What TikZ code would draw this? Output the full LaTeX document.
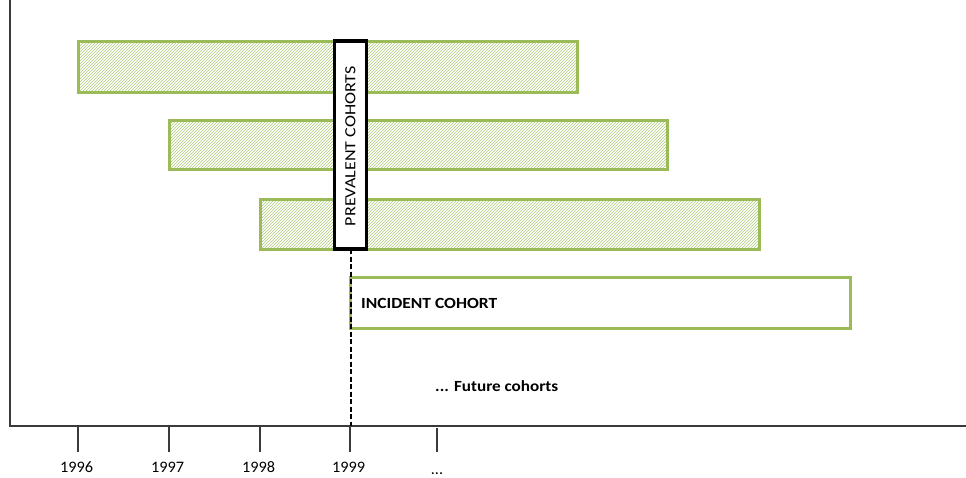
\documentclass[tikz,border=0pt]{standalone}
\usepackage{fontspec}
\setmainfont{Carlito}
\usetikzlibrary{patterns}
\definecolor{barGreen}{HTML}{9BBB59}
\definecolor{hatchGreen}{HTML}{AFC97A}
\definecolor{axisGray}{HTML}{3A3A3A}
\tikzset{
  cohortbar/.style={draw=barGreen, line width=3pt, anchor=north west, inner sep=0pt, outer sep=0pt},
  hatched/.style={cohortbar, pattern=north east lines, pattern color=hatchGreen},
  prevbox/.style={draw=black, line width=3.2pt, fill=white, anchor=north west, inner sep=0pt, outer sep=0pt, minimum width=32pt, minimum height=208pt},
  axisline/.style={draw=axisGray, line width=1.3pt},
  tickline/.style={draw=axisGray, line width=1.3pt},
  yearlabel/.style={font=\fontsize{16}{18}\selectfont, text=black, inner sep=0pt},
  boldlabel/.style={font=\bfseries\fontsize{15.5}{18}\selectfont, text=black, inner sep=0pt},
}
\begin{document}
\begin{tikzpicture}[x=1pt,y=-1pt]
\useasboundingbox (0,0) rectangle (966,477);
% bars
\node[hatched, minimum width=499pt, minimum height=51pt] (bar1) at (78,41) {};
\node[hatched, minimum width=498pt, minimum height=49pt] (bar2) at (169,120) {};
\node[hatched, minimum width=499pt, minimum height=50pt] (bar3) at (260,199) {};
\node[cohortbar, fill=white, minimum width=500pt, minimum height=51pt] (inc) at (350,277) {};
\node[boldlabel, anchor=west] (inctext) at (361,303) {\resizebox{136pt}{\height}{INCIDENT COHORT}};
% prevalent box
\node[prevbox] (prev) at (334.5,41) {};
\node[rotate=90, font=\fontsize{15.5}{18}\selectfont, inner sep=0pt] (prevtext) at ([yshift=-1pt]prev.center) {\resizebox{160pt}{\height}{PREVALENT COHORTS}};
% axes
\coordinate (ytop) at (10,0);
\coordinate (origin) at (10,426);
\coordinate (xend) at (966,426);
\draw[axisline] (ytop) -- (origin) -- (xend);
% dashed connector
\coordinate (dashend) at (prev.south |- origin);
\draw[black, line width=2pt, dash pattern=on 5pt off 2.5pt] (prev.south) -- (dashend);
% ticks and labels
\foreach \xx/\lab/\nm in {78/1996/a,169/1997/b,260/1998/c,350/1999/d}{
  \coordinate (t\nm) at (\xx,427);
  \coordinate (b\nm) at (\xx,452);
  \draw[tickline] (t\nm) -- (b\nm);
  \node[yearlabel] (lab\nm) at (\xx-1.5,467) {\resizebox{33pt}{\height}{\lab}};
}
\coordinate (te) at (437,428);
\coordinate (be) at (437,452);
\draw[tickline] (te) -- (be);
\node[yearlabel] (labe) at (437,474) {...};
\node[boldlabel, anchor=west] (future) at (435,386) {\resizebox{123pt}{\height}{... Future cohorts}};
\end{tikzpicture}
\end{document}
